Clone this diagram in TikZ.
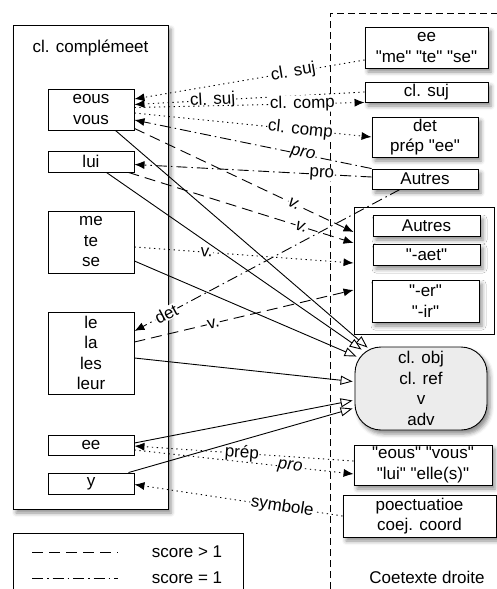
\documentclass[tikz,border=0pt]{standalone}
\usepackage{fontspec}
\setmainfont{Liberation Sans}[Ligatures=TeXOff]
\usetikzlibrary{positioning,arrows.meta,calc,shadows.blur}

\begin{document}
\begin{tikzpicture}[x=1pt, y=-1pt,
    every node/.style={font=\fontsize{17}{20.5}\selectfont},
    soft/.style={blur shadow={shadow xshift=3pt, shadow yshift=-4pt, shadow blur radius=4pt, shadow opacity=45}},
    panel/.style={rectangle, draw, fill=white, line width=1pt, inner sep=0pt, soft},
    item/.style={rectangle, draw, fill=white, line width=0.9pt, inner sep=0pt, minimum width=86pt, align=center},
    rbox/.style={rectangle, draw, fill=white, line width=0.9pt, inner sep=0pt, align=center, soft},
    dotline/.style={line width=0.9pt, dash pattern=on 1.3pt off 3.6pt},
    dashline/.style={line width=0.9pt, dash pattern=on 11pt off 6pt},
    dotdash/.style={line width=0.9pt, dash pattern=on 11pt off 4pt on 1.5pt off 4pt},
    tip/.style={-{Latex[length=10pt, width=8pt]}},
    opentip/.style={line width=0.9pt, -{Triangle[open, length=12pt, width=9pt, fill=white]}},
    lbl/.style={fill=white, inner sep=0.5pt, sloped}
]
\useasboundingbox (0,0) rectangle (497,589);

% left column
\node[panel, minimum width=155pt, minimum height=484pt] (cmpl) at (90.5,267) {};
\node (cmpltitle) at (90.5,48) {cl. complémeet};
\node[item, minimum height=41pt] (eousvous) at (91,109.5) {eous\\vous};
\node[item, minimum height=21pt] (lui) at (91,161.5) {lui};
\node[item, minimum height=62pt] (mts) at (91,242) {me\\te\\se};
\node[item, minimum height=82pt] (lla) at (91,353) {le\\la\\les\\leur};
\node[item, minimum height=20pt] (eebox) at (91,445) {ee};
\node[item, minimum height=21pt] (ybox) at (91,483.5) {y};

% legend
\draw[line width=0.9pt] (13,589) -- (13,533) -- (243,533) -- (243,589);
\draw[dashline] (32,552) -- (118,552);
\draw[dotdash] (32,578) -- (118,578);
\node (leg1) at (187,552) {score > 1};
\node (leg2) at (187,578) {score = 1};

% right context
\draw[line width=0.9pt, dash pattern=on 7pt off 4pt] (330,589) -- (330,13) -- (497,13);
\node (ctxt) at (427,577) {Coetexte droite};

\node[rbox, minimum width=123pt, minimum height=41pt] (eemts) at (426.5,47.5) {ee\\"me" "te" "se"};
\node[rbox, minimum width=123pt, minimum height=20pt] (clsuj) at (426.5,92) {cl. suj};
\node[rbox, minimum width=106pt, minimum height=40pt] (detprep) at (425,137) {det\\prép "ee"};
\node[rbox, minimum width=106pt, minimum height=20pt] (autres1) at (425,179) {Autres};

\node[rectangle, draw, fill=white, line width=0.9pt, minimum width=140pt, minimum height=127pt] (group) at (424,270.5) {};
\node[rbox, minimum width=107pt, minimum height=21pt] (autres2) at (426.5,225.5) {Autres};
\node[rbox, minimum width=107pt, minimum height=21pt] (aet) at (426.5,254.5) {"-aet"};
\node[rbox, minimum width=107pt, minimum height=42pt] (erir) at (425.5,301) {"-er"\\"-ir"};

\node[rbox, fill=gray!15, rounded corners=26pt, minimum width=132pt, minimum height=83pt] (clobj) at (421,388.5) {cl. obj\\cl. ref\\v\\adv};
\node[rbox, minimum width=138pt, minimum height=40pt] (pronbox) at (423,465) {"eous" "vous"\\"lui" "elle(s)"};
\node[rbox, minimum width=153pt, minimum height=42pt] (ponct) at (419.5,516) {poectuatioe\\coej. coord};

% dotted links
\draw[dotline, tip] ($(eemts.west)+(0,12.5)$) -- node[lbl, pos=0.31] {cl. suj} ($(eousvous.east)+(0,-10.5)$);
\draw[dotline, tip] (clsuj.west) -- node[lbl, pos=0.66] {cl. suj} ($(eousvous.east)+(0,-5)$);
\draw[dotline, tip] ($(eousvous.east)+(0,-2)$) -- node[lbl, pos=0.73] {cl. comp} (clsuj.south west);
\draw[dotline, tip] ($(eousvous.east)+(0,3.5)$) -- node[lbl, pos=0.70] {cl. comp} (detprep.west);
\draw[dotline, tip] ($(mts.east)+(0,5)$) -- node[lbl, pos=0.33] {v.} ($(group.west)+(0,-7.5)$);
\draw[dotline, tip] ($(pronbox.west)+(0,-4)$) -- node[lbl, pos=0.51] {prép} ($(eebox.east)+(0,1)$);
\draw[dotline, tip] ($(eebox.east)+(0,5)$) -- node[lbl, pos=0.71] {\itshape pro} ($(pronbox.west)+(0,9)$);
\draw[dotline, tip] (ponct.west) -- node[lbl, pos=0.29] {symbole} ($(ybox.east)+(0,1)$);

% dash-dot links
\draw[dotdash, tip] (autres1.north west) -- node[lbl, pos=0.29] {\itshape pro} ($(eousvous.east)+(0,10.5)$);
\draw[dotdash, tip] ($(autres1.west)+(0,-2)$) -- node[lbl, pos=0.21] {pro} ($(lui.east)+(0,3)$);
\draw[dotdash, tip] ($(autres1.south)+(-25,0)$) -- node[lbl, pos=0.88] {det} ($(lla.east)+(0,-22)$);

% dashed links
\draw[dashline, tip] ($(eousvous.south east)+(0,-2)$) -- node[lbl, pos=0.73] {\itshape v.} ($(group.west)+(0,-38.5)$);
\draw[dashline, tip] ($(lui.south east)+(-6,0)$) -- node[lbl, pos=0.77] {\itshape v.} ($(group.west)+(0,-27.5)$);
\draw[dashline, tip] ($(lla.east)+(0,-11)$) -- node[lbl, pos=0.36] {v.} ($(group.west)+(0,19.5)$);

% solid links
\draw[opentip] ($(eousvous.south east)+(-19,0)$) -- ($(clobj.north west)+(13,1)$);
\draw[opentip] ($(lui.south east)+(-28,0)$) -- ($(clobj.north west)+(7,3)$);
\draw[opentip] ($(mts.east)+(0,19)$) -- ($(clobj.north west)+(2,10)$);
\draw[opentip] ($(lla.east)+(0,5)$) -- ($(clobj.west)+(-2,-7)$);
\draw[opentip] ($(eebox.east)+(0,-2)$) -- ($(clobj.west)+(-2,12)$);
\draw[opentip] ($(ybox.north east)+(-6,0)$) -- ($(clobj.west)+(-2,20)$);
\end{tikzpicture}
\end{document}
